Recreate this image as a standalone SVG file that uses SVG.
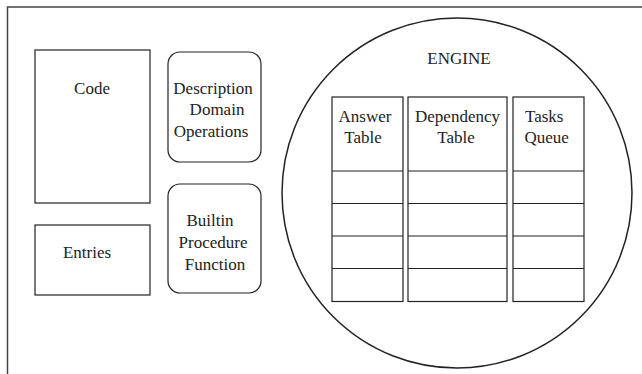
<svg xmlns="http://www.w3.org/2000/svg" width="642" height="374" viewBox="0 0 642 374">
<style>
  .b { fill: #fff; stroke: #222; stroke-width: 1.2; }
  .t { font-family: "Liberation Serif", "Times New Roman", serif; font-size: 17px; fill: #222; }
  .m { text-anchor: middle; }
</style>
<rect width="642" height="374" fill="#fff"/>
<g id="frame">
  <path d="M7.5,374 V7 H642" fill="none" stroke="#444" stroke-width="1.5"/>
</g>
<g id="code">
  <rect class="b" x="35" y="50" width="115" height="153"/>
  <text class="t m" x="92" y="94">Code</text>
</g>
<g id="entries">
  <rect class="b" x="35" y="225" width="115" height="70"/>
  <text class="t m" x="87" y="258">Entries</text>
</g>
<g id="description">
  <rect class="b" x="168" y="52" width="93" height="110" rx="12" ry="12"/>
  <text class="t m" x="213" y="94">Description</text>
  <text class="t m" x="217" y="115">Domain</text>
  <text class="t m" x="211" y="137">Operations</text>
</g>
<g id="builtin">
  <rect class="b" x="168" y="184" width="93" height="109" rx="12" ry="12"/>
  <text class="t m" x="210" y="226">Builtin</text>
  <text class="t m" x="213" y="248">Procedure</text>
  <text class="t m" x="215" y="270">Function</text>
</g>
<g id="engine">
  <circle cx="457" cy="193" r="175" fill="#fff" stroke="#222" stroke-width="1.5"/>
  <text class="t m" x="459" y="64">ENGINE</text>
</g>
<g id="answer-table">
  <rect class="b" x="332" y="97" width="71" height="204.5"/>
  <path d="M332,171 H403 M332,203.5 H403 M332,236 H403 M332,268.5 H403" stroke="#222" stroke-width="1.2"/>
  <text class="t m" x="365" y="122">Answer</text>
  <text class="t m" x="363" y="143">Table</text>
</g>
<g id="dependency-table">
  <rect class="b" x="408" y="97" width="99" height="204.5"/>
  <path d="M408,171 H507 M408,203.5 H507 M408,236 H507 M408,268.5 H507" stroke="#222" stroke-width="1.2"/>
  <text class="t m" x="457.5" y="122">Dependency</text>
  <text class="t m" x="456" y="143">Table</text>
</g>
<g id="tasks-queue">
  <rect class="b" x="513" y="97" width="71" height="204.5"/>
  <path d="M513,171 H584 M513,203.5 H584 M513,236 H584 M513,268.5 H584" stroke="#222" stroke-width="1.2"/>
  <text class="t" x="525" y="122">Tasks</text>
  <text class="t" x="524.5" y="143">Queue</text>
</g>
<g id="connectors"></g>
</svg>
